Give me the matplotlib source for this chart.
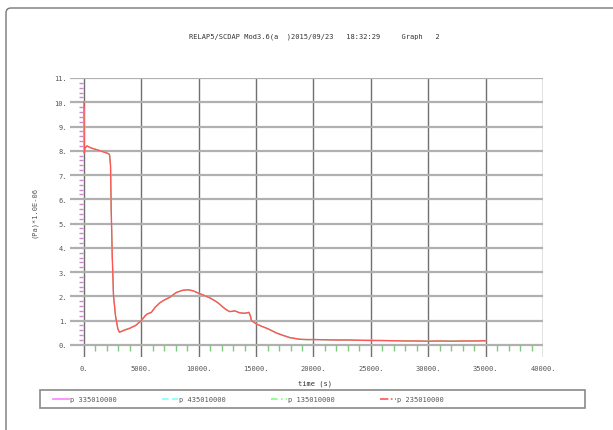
import matplotlib.pyplot as plt
from matplotlib.lines import Line2D
from matplotlib.patches import Rectangle, FancyBboxPatch

# data (time in s, pressure in MPa)
time = [0, 30, 80, 260, 600, 1070, 1600, 2140, 2225, 2312, 2370, 2460, 2570, 2745,
        2950, 3090, 3500, 3983, 4500, 5000, 5300, 5494, 5872, 6200, 6600, 7000,
        7470, 8050, 8600, 9070, 9500, 10030, 10670, 11000, 11400, 11690, 12120,
        12400, 12700, 13140, 13575, 14010, 14360, 14500, 14590, 15030, 15470,
        16050, 16770, 17300, 17935, 18800, 19500, 20060, 21000, 22000, 23000,
        24040, 25000, 26000, 27000, 28000, 29000, 30000, 31000, 32000, 33000,
        34000, 35000]

p335 = [9.8, 7.9, 8.1, 8.2, 8.12, 8.05, 7.97, 7.88, 7.84, 7.4, 5.6, 3.7, 2.03, 1.2,
        0.66, 0.53, 0.61, 0.69, 0.81, 1.0, 1.19, 1.28, 1.35, 1.55, 1.74, 1.86,
        1.97, 2.16, 2.25, 2.28, 2.23, 2.12, 2.0, 1.92, 1.81, 1.73, 1.55, 1.45,
        1.37, 1.4, 1.32, 1.3, 1.34, 1.2, 1.0, 0.86, 0.76, 0.65, 0.48, 0.39,
        0.29, 0.23, 0.22, 0.21, 0.22, 0.19, 0.21, 0.18, 0.19, 0.17, 0.18, 0.16,
        0.17, 0.15, 0.16, 0.16, 0.15, 0.17, 0.16]
p435 = [9.7, 7.9, 8.1, 8.2, 8.12, 8.05, 7.97, 7.88, 7.84, 7.4, 5.6, 3.7, 2.03, 1.2,
        0.66, 0.52, 0.6, 0.68, 0.8, 1.0, 1.18, 1.27, 1.33, 1.54, 1.72, 1.85,
        1.96, 2.15, 2.24, 2.27, 2.22, 2.11, 1.99, 1.93, 1.82, 1.72, 1.55, 1.45,
        1.37, 1.39, 1.32, 1.3, 1.33, 1.2, 1.0, 0.85, 0.77, 0.66, 0.49, 0.4,
        0.3, 0.22, 0.21, 0.22, 0.2, 0.21, 0.19, 0.2, 0.17, 0.19, 0.16, 0.17,
        0.15, 0.16, 0.15, 0.17, 0.16, 0.15, 0.17]
p135 = [9.6, 7.9, 8.1, 8.2, 8.12, 8.05, 7.97, 7.88, 7.84, 7.4, 5.6, 3.7, 2.03, 1.2,
        0.66, 0.52, 0.62, 0.7, 0.79, 1.0, 1.17, 1.26, 1.34, 1.56, 1.73, 1.84,
        1.95, 2.16, 2.26, 2.27, 2.23, 2.13, 2.01, 1.93, 1.83, 1.73, 1.56, 1.46,
        1.37, 1.4, 1.33, 1.3, 1.34, 1.2, 1.0, 0.86, 0.77, 0.67, 0.5, 0.4,
        0.31, 0.24, 0.2, 0.23, 0.21, 0.2, 0.21, 0.19, 0.2, 0.18, 0.17, 0.18,
        0.16, 0.15, 0.17, 0.15, 0.17, 0.16, 0.16]
p235 = [10.0, 7.9, 8.1, 8.2, 8.12, 8.05, 7.97, 7.88, 7.84, 7.4, 5.6, 3.7, 2.03, 1.2,
        0.66, 0.52, 0.6, 0.68, 0.8, 1.0, 1.18, 1.27, 1.34, 1.55, 1.73, 1.85,
        1.96, 2.16, 2.25, 2.27, 2.23, 2.12, 2.0, 1.93, 1.82, 1.73, 1.55, 1.45,
        1.37, 1.4, 1.32, 1.3, 1.34, 1.2, 1.0, 0.86, 0.77, 0.66, 0.49, 0.4,
        0.3, 0.23, 0.22, 0.22, 0.21, 0.2, 0.2, 0.19, 0.18, 0.18, 0.17, 0.16,
        0.16, 0.15, 0.16, 0.15, 0.16, 0.16, 0.17]

series = [('p 335010000', p335, '#ff80ff', '-', 0.7),
          ('p 435010000', p435, '#80ffff', (0, (4, 2)), 0.7),
          ('p 135010000', p135, '#80ff80', (0, (4, 2, 1, 2)), 0.7),
          ('p 235010000', p235, '#ff5555', (0, (5, 1.5, 1, 1.5)), 1.0)]

xticks = [0, 5000, 10000, 15000, 20000, 25000, 30000, 35000, 40000]
yticks = [0, 1, 2, 3, 4, 5, 6, 7, 8, 9, 10, 11]

W, H = 613, 431
fig = plt.figure(figsize=(W / 100, H / 100), dpi=100)
mono = 'DejaVu Sans Mono'
tc = '#555555'

ax = fig.add_axes([70 / W, 1 - 358 / H, (543 - 70) / W, (358 - 79) / H])
ax.set_xlim(-1220, 40000)
ax.set_ylim(-0.5, 11)
for s in ax.spines.values():
    s.set_visible(False)

# grid
for x in xticks:
    ax.axvline(x, color='#707070', lw=1.0, zorder=1)
for y in yticks:
    ax.axhline(y, color='#b0b0b0', lw=1.6, zorder=1)

# small ticks next to the zero lines
minor_y = [i / 5 for i in range(1, 55) if i % 5 != 0]
ax.hlines(minor_y, -420, -80, color='#cc88cc', lw=1, zorder=2)
minor_x = [i * 1000 for i in range(1, 40) if i % 5 != 0]
ax.vlines(minor_x, -0.25, 0, color='#80c880', lw=1, zorder=2)

for name, vals, col, ls, lw in series:
    ax.plot(time, vals, color=col, lw=lw, zorder=3)

ax.set_xticks(xticks)
ax.set_xticklabels([f'{x}.' for x in xticks], fontfamily=mono, fontsize=5, color=tc)
ax.set_yticks(yticks)
ax.set_yticklabels([f'{y}.' for y in yticks], fontfamily=mono, fontsize=5, color=tc)
ax.tick_params(axis='x', length=0, pad=6)
ax.tick_params(axis='y', length=0, pad=2)

fig.text(314 / W, 1 - 37 / H,
         'RELAP5/SCDAP Mod3.6(a  )2015/09/23   18:32:29     Graph   2',
         ha='center', va='center', fontfamily=mono, fontsize=5, color='#333333')
fig.text(34 / W, 1 - 212 / H, '(Pa)*1.0E-06', rotation=90, ha='center', va='center',
         fontfamily=mono, fontsize=5, color=tc)
fig.text(315 / W, 1 - 384 / H, 'time (s)', ha='center', va='center',
         fontfamily=mono, fontsize=5, color='#333333')

# legend
handles = [Line2D([], [], color=c, lw=1.2, linestyle=ls) for _, _, c, ls, _ in series]
fig.legend(handles, [s[0] for s in series], ncol=4, frameon=False,
           loc='center left', bbox_to_anchor=(53 / W, 1 - 400 / H),
           prop={'family': mono, 'size': 5}, labelcolor=tc,
           handlelength=2.3, handletextpad=0.15, columnspacing=6.5,
           borderpad=0, borderaxespad=0)
fig.patches.append(Rectangle((40 / W, 1 - 409 / H), (585 - 40) / W, 18 / H,
                             transform=fig.transFigure, fill=False,
                             edgecolor='#8a8a8a', lw=1.2))

# outer frame with rounded corner
fig.patches.append(FancyBboxPatch((6 / 100, -0.5), 7, (H - 9) / 100 + 0.5,
                                  boxstyle='round,pad=0,rounding_size=0.05',
                                  transform=fig.dpi_scale_trans, fill=False,
                                  edgecolor='#777777', lw=1))

fig.savefig('out.png', dpi=100)
